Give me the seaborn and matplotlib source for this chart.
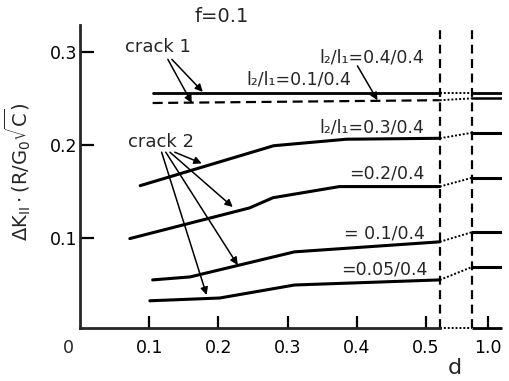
import numpy as np
import pandas as pd
import matplotlib
matplotlib.use("Agg")
import matplotlib.pyplot as plt
import seaborn as sns

# ---------------- data ----------------
title = "f=0.1"
# crack 1 (two cases)
d_crack1 = [0.105, 0.52]
k_c1_04 = [0.256, 0.256]          # l2/l1 = 0.4/0.4 (solid)
k_c1_01 = [0.245, 0.248]          # l2/l1 = 0.1/0.4 (dashed)
# crack 2 curves
d_03 = [0.087, 0.28, 0.385, 0.52]
k_03 = [0.156, 0.199, 0.206, 0.207]
d_02 = [0.072, 0.245, 0.279, 0.375, 0.52]
k_02 = [0.099, 0.132, 0.143, 0.155, 0.155]
d_01 = [0.105, 0.159, 0.31, 0.52]
k_01 = [0.0545, 0.0577, 0.0847, 0.0955]
d_005 = [0.101, 0.202, 0.31, 0.52]
k_005 = [0.032, 0.035, 0.049, 0.0545]
# values on the far segment (d around 1.0)
d_far = [0.977, 1.02]
far_c1_04 = 0.256
far_c1_01 = 0.250
far_03 = 0.213
far_02 = 0.1645
far_01 = 0.106
far_005 = 0.0685

x_ticks = [0.1, 0.2, 0.3, 0.4, 0.5, 1.0]
x_ticklabels = ["0.1", "0.2", "0.3", "0.4", "0.5", "1.0"]
y_ticks = [0.1, 0.2, 0.3]
y_ticklabels = ["0.1", "0.2", "0.3"]

# ---------------- broken-axis scale ----------------
LO, HI, GAP = 0.52, 0.977, 0.047
K = GAP / (HI - LO)

def fwd(d):
    d = np.asarray(d, dtype=float)
    return np.where(d <= LO, d, np.where(d <= HI, LO + (d - LO) * K, LO + GAP + (d - HI)))

def inv(p):
    p = np.asarray(p, dtype=float)
    return np.where(p <= LO, p, np.where(p <= LO + GAP, LO + (p - LO) / K, HI + (p - LO - GAP)))

sns.set_theme(style="ticks")
plt.rcParams["font.family"] = ["DejaVu Sans"]
plt.rcParams["mathtext.fontset"] = "dejavusans"
plt.rcParams["mathtext.default"] = "regular"

fig = plt.figure(figsize=(5.09, 3.81), dpi=100)
ax = fig.add_axes([80 / 509, 53 / 381, 422 / 509, 303 / 381])
ax.set_xscale("function", functions=(fwd, inv))
ax.set_xlim(0, 1.02)
ax.set_ylim(0.0027, 0.329)

lw = 2.2
blk = "black"
# crack 1
sns.lineplot(x=d_crack1, y=k_c1_04, ax=ax, color=blk, lw=2.0)
sns.lineplot(x=d_crack1, y=k_c1_01, ax=ax, color=blk, lw=1.6, linestyle=(0, (4.5, 2.5)))
# crack 2
for dd, kk in [(d_03, k_03), (d_02, k_02), (d_01, k_01), (d_005, k_005)]:
    sns.lineplot(x=dd, y=kk, ax=ax, color=blk, lw=lw)

# far segments and dotted connectors
ends = [(k_c1_04[-1], far_c1_04, 2.0), (k_c1_01[-1], far_c1_01, 1.8),
        (k_03[-1], far_03, lw), (k_02[-1], far_02, lw),
        (k_01[-1], far_01, lw), (k_005[-1], far_005, lw)]
for v_end, v_far, w in ends:
    sns.lineplot(x=d_far, y=[v_far, v_far], ax=ax, color=blk, lw=w)
    sns.lineplot(x=[LO, HI], y=[v_end, v_far], ax=ax, color=blk, lw=1.4,
                 linestyle=(0, (1, 1)))

# vertical dashed break lines
for xb in (LO, HI):
    ax.axvline(xb, color=blk, lw=1.6, linestyle=(0, (4, 2.5)))

# axes styling
for s in ("top", "right"):
    ax.spines[s].set_visible(False)
ax.spines["left"].set_linewidth(2.0)
ax.spines["bottom"].set_linewidth(2.0)
ax.spines["bottom"].set_bounds(0, LO)
tr = ax.get_xaxis_transform()
ax.plot([LO, HI], [0, 0], transform=tr, color=blk, lw=1.4, linestyle=(0, (1, 1)), clip_on=False)
ax.plot([HI, 1.02], [0, 0], transform=tr, color=blk, lw=2.0, clip_on=False, solid_capstyle="butt")

ax.set_xticks(x_ticks)
ax.set_xticklabels(x_ticklabels)
ax.set_yticks(y_ticks)
ax.set_yticklabels(y_ticklabels)
ax.xaxis.set_minor_locator(matplotlib.ticker.NullLocator())
ax.tick_params(axis="x", direction="in", length=9, width=1.6, pad=8, labelsize=12.5, colors=blk)
ax.tick_params(axis="y", direction="in", length=10, width=1.6, pad=2, labelsize=12.5, colors=blk)
ax.text(-0.028, -0.066, "0", transform=ax.transAxes, ha="center", va="center", fontsize=12.5)
ax.text(0.889, -0.132, "d", transform=ax.transAxes, ha="center", va="center", fontsize=16)
ax.text(-0.147, 0.515, r"$\Delta K_{II}\cdot(R/G_0\sqrt{C})$", transform=ax.transAxes,
        rotation=90, ha="center", va="center", fontsize=14)
fig.text(222 / 509, 1 - 17 / 381, title, ha="center", va="center", fontsize=14)

# annotations
fs = 12.5
ax.text(0.1126, 0.305, "crack 1", ha="center", va="center", fontsize=13)
arrow = dict(arrowstyle="-|>", color=blk, lw=1.1, mutation_scale=11, shrinkA=0, shrinkB=0)
ax.annotate("", xy=(0.1616, 0.245), xytext=(0.127, 0.292), arrowprops=arrow)
ax.annotate("", xy=(0.1775, 0.257), xytext=(0.1328, 0.292), arrowprops=arrow)

ax.text(0.117, 0.203, "crack 2", ha="center", va="center", fontsize=13)
for sx, ex, ey in [(0.118, 0.183, 0.0383), (0.124, 0.228, 0.0705),
                   (0.130, 0.2208, 0.133), (0.137, 0.176, 0.180)]:
    ax.annotate("", xy=(ex, ey), xytext=(sx, 0.192), arrowprops=arrow)

ax.text(0.498, 0.2935, "l₂/l₁=0.4/0.4", ha="right", va="center", fontsize=fs)
ax.annotate("", xy=(0.430, 0.248), xytext=(0.401, 0.285), arrowprops=arrow)
ax.text(0.392, 0.270, "l₂/l₁=0.1/0.4", ha="right", va="center", fontsize=fs)
ax.text(0.498, 0.219, "l₂/l₁=0.3/0.4", ha="right", va="center", fontsize=fs)
ax.text(0.498, 0.1696, "=0.2/0.4", ha="right", va="center", fontsize=fs)
ax.text(0.498, 0.105, "= 0.1/0.4", ha="right", va="center", fontsize=fs)
ax.text(0.502, 0.0652, "=0.05/0.4", ha="right", va="center", fontsize=fs)

fig.savefig("out.png", dpi=100)
